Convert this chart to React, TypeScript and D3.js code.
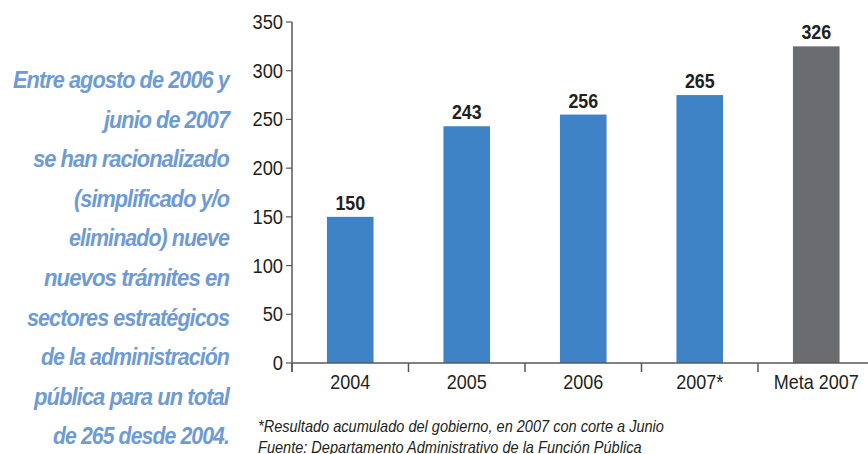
import React from "react";
import * as d3 from "d3";

const categories = ["2004", "2005", "2006", "2007*", "Meta 2007"];
const barValues = [150, 243, 255, 275, 325];
const valueLabels = ["150", "243", "256", "265", "326"];
const barColors = ["#3e83c6", "#3e83c6", "#3e83c6", "#3e83c6", "#6b6c70"];
const yTicks = [0, 50, 100, 150, 200, 250, 300, 350];
const sideText = [
  "Entre agosto de 2006 y",
  "junio de 2007",
  "se han racionalizado",
  "(simplificado y/o",
  "eliminado) nueve",
  "nuevos  trámites en",
  "sectores estratégicos",
  "de la administración",
  "pública para un total",
  "de 265 desde 2004.",
];
const sideWidths = [216, 125, 196, 155, 160, 185, 202, 188, 195, 176];
const footnotes = [
  "*Resultado acumulado del gobierno, en 2007 con corte a Junio",
  "Fuente: Departamento Administrativo de la Función Pública",
];

const W = 868;
const H = 454;
const font = "'Liberation Sans', Arial, sans-serif";

type NTProps = {
  x: number;
  y: number;
  sx: number;
  anchor?: "start" | "middle" | "end";
  size: number;
  weight?: string;
  italic?: boolean;
  fill: string;
  children: React.ReactNode;
};

function NText({ x, y, sx, anchor = "start", size, weight = "normal", italic = false, fill, children }: NTProps) {
  return (
    <text
      transform={`translate(${x},${y}) scale(${sx},1)`}
      textAnchor={anchor}
      fontFamily={font}
      fontSize={size}
      fontWeight={weight}
      fontStyle={italic ? "italic" : "normal"}
      fill={fill}
    >
      {children}
    </text>
  );
}

export default function App() {
  const x = d3
    .scaleBand<string>()
    .domain(categories)
    .range([292, 874.5])
    .paddingInner(0.6)
    .paddingOuter(0.3);
  const y = d3.scaleLinear().domain([0, 350]).range([363, 22]);
  const step = x.step();
  const x0 = 292;
  const boundaries = categories.map((_, i) => x0 + i * step);
  const axisColor = "#58585a";
  const textColor = "#231f20";

  return (
    <svg width={W} height={H} style={{ position: "absolute", left: 0, top: 0, background: "#fff" }}>
      {/* side text */}
      {sideText.map((t, i) => (
        <text
          key={i}
          x={229}
          y={88 + i * 39.6}
          textAnchor="end"
          fill="#6f9bd4"
          fontFamily={font}
          fontWeight="bold"
          fontStyle="italic"
          fontSize={23}
          letterSpacing={-1}
          textLength={sideWidths[i]}
          lengthAdjust="spacingAndGlyphs"
        >
          {t}
        </text>
      ))}

      {/* bars */}
      {categories.map((c, i) => (
        <rect
          key={c}
          x={x(c)}
          y={y(barValues[i])}
          width={x.bandwidth()}
          height={y(0) - y(barValues[i])}
          fill={barColors[i]}
        />
      ))}
      {categories.map((c, i) => (
        <NText
          key={"l" + c}
          x={(x(c) as number) + x.bandwidth() / 2}
          y={y(barValues[i]) - 7}
          sx={0.85}
          anchor="middle"
          size={21}
          weight="bold"
          fill={textColor}
        >
          {valueLabels[i]}
        </NText>
      ))}

      {/* y axis */}
      <line x1={x0} x2={x0} y1={y(350)} y2={372} stroke={axisColor} strokeWidth={1.5} />
      {yTicks.map((t) => (
        <g key={t}>
          <line x1={x0 - 6} x2={x0} y1={y(t)} y2={y(t)} stroke={axisColor} strokeWidth={1.2} />
          <NText x={x0 - 9} y={y(t) + 7} sx={0.94} anchor="end" size={19.5} fill={textColor}>
            {t}
          </NText>
        </g>
      ))}

      {/* x axis */}
      <line x1={x0} x2={W} y1={y(0)} y2={y(0)} stroke={axisColor} strokeWidth={1.5} />
      {boundaries.map((b, i) => (
        <line key={i} x1={b} x2={b} y1={y(0)} y2={372} stroke={axisColor} strokeWidth={1.5} />
      ))}
      {categories.map((c) => (
        <NText
          key={"x" + c}
          x={(x(c) as number) + x.bandwidth() / 2}
          y={389}
          sx={0.9}
          anchor="middle"
          size={20}
          fill={textColor}
        >
          {c}
        </NText>
      ))}

      {/* footnotes */}
      {footnotes.map((f, i) => (
        <NText key={i} x={258} y={432 + i * 21} sx={0.91} size={16} italic fill={textColor}>
          {f}
        </NText>
      ))}
    </svg>
  );
}
